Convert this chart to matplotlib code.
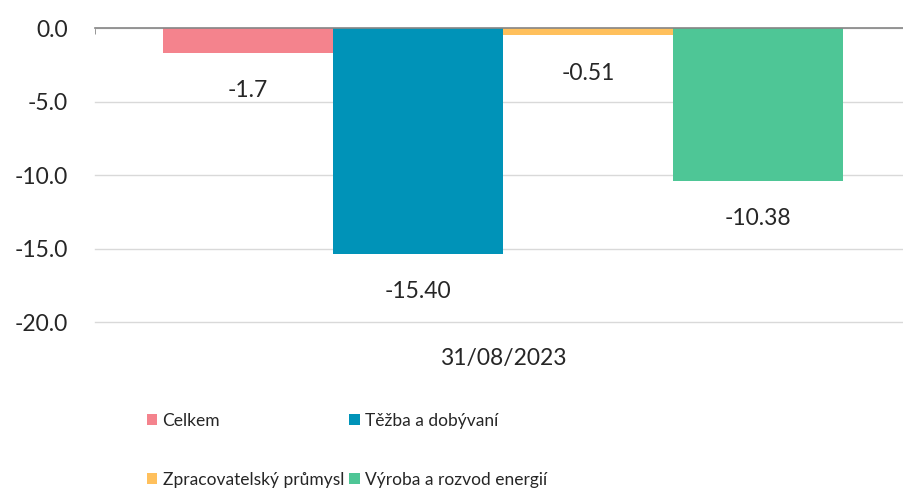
import matplotlib.pyplot as plt
import numpy as np

plt.rcParams['font.family'] = ['Lato', 'DejaVu Sans']

# data
category = "31/08/2023"
series = ["Celkem", "Těžba a dobývaní", "Zpracovatelský průmysl", "Výroba a rozvod energií"]
values = [-1.7, -15.40, -0.51, -10.38]
value_labels = ["-1.7", "-15.40", "-0.51", "-10.38"]
colors = ["#F4838D", "#0093B8", "#FFC05C", "#4EC696"]
yticks = [0, -5, -10, -15, -20]

fig = plt.figure(figsize=(9.04, 4.9), dpi=100)
ax = fig.add_axes([95 / 904, 1 - 322 / 490, (911 - 95) / 904, (322 - 28) / 490])

n = len(series)
group_w = 0.833
bar_w = group_w / n
bars = []
for i in range(n):
    x = -group_w / 2 + bar_w * (i + 0.5)
    b = ax.bar(x, values[i], width=bar_w, color=colors[i], label=series[i], zorder=3)
    ax.bar_label(b, labels=[value_labels[i]], padding=19.5, fontsize=16.5, color='#262626')
    bars.append(b)

ax.set_xlim(-0.5, 0.5)
ax.set_ylim(-20, 0)
ax.set_yticks(yticks)
ax.set_yticklabels([f"{v:.1f}" for v in yticks], fontsize=16.5, color='#262626')
ax.yaxis.grid(True, color='#D9D9D9', linewidth=1, zorder=0)
for gl in ax.get_ygridlines():
    gl.set_clip_on(False)
ax.set_axisbelow(True)
ax.tick_params(axis='y', length=0, pad=19.5)

ax.set_xticks([0])
ax.set_xticklabels([category], fontsize=16.5, color='#262626')
ax.tick_params(axis='x', which='major', length=0, pad=19)
ax.set_xticks([-0.5, 0.5], minor=True)
ax.tick_params(axis='x', which='minor', top=True, bottom=False, direction='in',
               length=4, color='#868686')

for s in ['left', 'right', 'bottom']:
    ax.spines[s].set_visible(False)
ax.spines['top'].set_color('#868686')
ax.spines['top'].set_linewidth(1.2)
ax.spines['top'].set_zorder(4)

order = [0, 2, 1, 3]
fig.legend([bars[i] for i in order], [series[i] for i in order],
           ncol=2, loc='upper left', bbox_to_anchor=(147 / 904, 1 - 413 / 490),
           frameon=False, fontsize=12.5, handlelength=0.6, handleheight=0.6,
           handletextpad=0.3, columnspacing=0.3, labelspacing=2.45,
           borderaxespad=0, borderpad=0, labelcolor='#262626')

plt.savefig("out.png", dpi=100)
plt.close(fig)
